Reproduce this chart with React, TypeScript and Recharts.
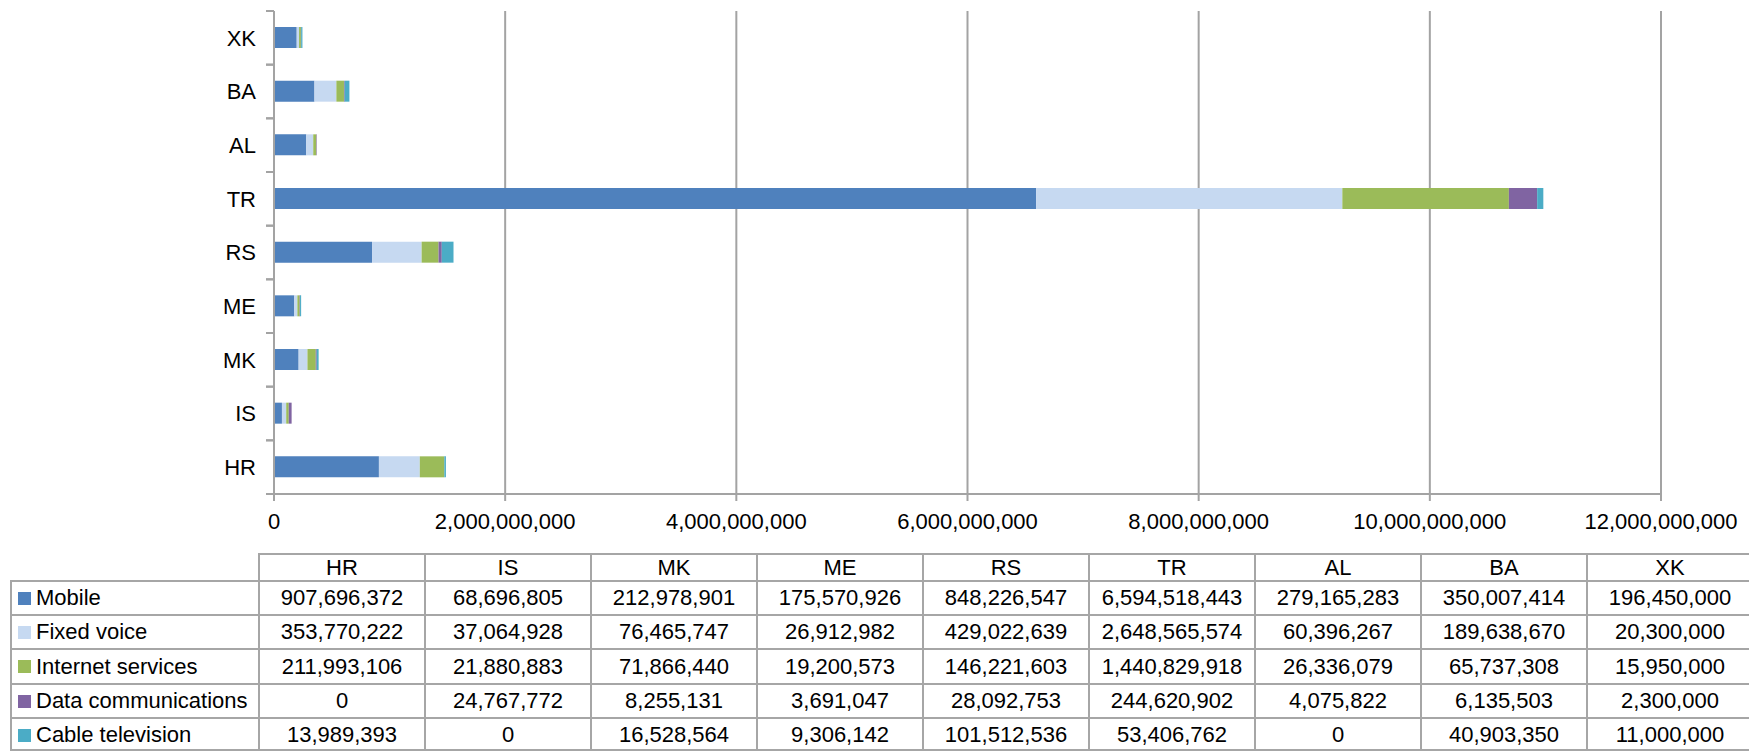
import React from 'react';
import { BarChart, Bar, XAxis, YAxis, CartesianGrid } from 'recharts';

const categories = ['HR', 'IS', 'MK', 'ME', 'RS', 'TR', 'AL', 'BA', 'XK'];
const mobile = [907696372, 68696805, 212978901, 175570926, 848226547, 6594518443, 279165283, 350007414, 196450000];
const fixedVoice = [353770222, 37064928, 76465747, 26912982, 429022639, 2648565574, 60396267, 189638670, 20300000];
const internet = [211993106, 21880883, 71866440, 19200573, 146221603, 1440829918, 26336079, 65737308, 15950000];
const dataComm = [0, 24767772, 8255131, 3691047, 28092753, 244620902, 4075822, 6135503, 2300000];
const cable = [13989393, 0, 16528564, 9306142, 101512536, 53406762, 0, 40903350, 11000000];
const xTicks = [0, 2000000000, 4000000000, 6000000000, 8000000000, 10000000000, 12000000000];

const seriesNames = ['Mobile', 'Fixed voice', 'Internet services', 'Data communications', 'Cable television'];
const seriesKeys = ['mobile', 'fixedVoice', 'internet', 'dataComm', 'cable'];
const seriesValues = [mobile, fixedVoice, internet, dataComm, cable];
const seriesColors = ['#4F81BD', '#C6D9F1', '#9BBB59', '#8064A2', '#4BACC6'];

const data = categories.map((c, i) => ({
  name: c,
  mobile: mobile[i],
  fixedVoice: fixedVoice[i],
  internet: internet[i],
  dataComm: dataComm[i],
  cable: cable[i],
}));

const FONT = '"Liberation Sans", Arial, Helvetica, sans-serif';
const CHART_W = 1749;
const CHART_H = 545;
const PLOT_LEFT = 274;
const PLOT_TOP = 11;
const PLOT_BOTTOM = 494;
const PLOT_RIGHT = 1661;
const BAND = (PLOT_BOTTOM - PLOT_TOP) / categories.length;
const GRID = '#A3A3A3';

const fmt = (v: number) => v.toLocaleString('en-US');

const YTick = (props: any) => {
  const { x, y, payload } = props;
  return (
    <g>
      <line x1={PLOT_LEFT - 8} x2={PLOT_LEFT} y1={y - BAND / 2} y2={y - BAND / 2} stroke={GRID} strokeWidth={2} />
      <line x1={PLOT_LEFT - 8} x2={PLOT_LEFT} y1={y + BAND / 2} y2={y + BAND / 2} stroke={GRID} strokeWidth={2} />
      <text x={x} y={y} dy="0.36em" textAnchor="end" fill="#000" fontSize={22} fontFamily={FONT}>
        {payload.value}
      </text>
    </g>
  );
};

const TABLE_TOP = 553;
const HEADER_H = 27;
const ROW_H = 34.2;
const LEG_LEFT = 10;
const COL_LEFT = 258;
const COL_W = 166;
const BORDER = '2px solid #A6A6A6';

const rowTop = (r: number) => Math.round(TABLE_TOP + HEADER_H + r * ROW_H);

const cellBase: React.CSSProperties = {
  position: 'absolute',
  boxSizing: 'border-box',
  borderTop: BORDER,
  borderLeft: BORDER,
  display: 'flex',
  alignItems: 'center',
  fontSize: 22,
  fontFamily: FONT,
  color: '#000',
  whiteSpace: 'nowrap',
};

export default function App() {
  const rowsBottom = rowTop(seriesNames.length);
  return (
    <div style={{ position: 'absolute', left: 0, top: 0, width: CHART_W, height: 752, background: '#fff', overflow: 'hidden' }}>
      <BarChart
        width={CHART_W}
        height={CHART_H}
        data={data}
        layout="vertical"
        margin={{ top: PLOT_TOP, right: CHART_W - PLOT_RIGHT, left: 0, bottom: 0 }}
        barSize={21}
      >
        <CartesianGrid horizontal={false} vertical={true} stroke={GRID} strokeWidth={2} />
        <XAxis
          type="number"
          domain={[0, 12000000000]}
          ticks={xTicks}
          tickFormatter={fmt}
          height={CHART_H - PLOT_BOTTOM}
          axisLine={{ stroke: GRID, strokeWidth: 2 }}
          tickLine={{ stroke: GRID, strokeWidth: 2 }}
          tickSize={7}
          tickMargin={12}
          tick={{ fill: '#000', fontSize: 22, fontFamily: FONT }}
          interval={0}
        />
        <YAxis
          type="category"
          dataKey="name"
          reversed
          width={PLOT_LEFT}
          axisLine={{ stroke: GRID, strokeWidth: 2 }}
          tickLine={false}
          tickSize={8}
          tickMargin={10}
          tick={<YTick />}
          interval={0}
        />
        {seriesKeys.map((k, i) => (
          <Bar key={k} dataKey={k} stackId="a" fill={seriesColors[i]} isAnimationActive={false} />
        ))}
      </BarChart>

      {categories.map((c, j) => (
        <div
          key={'h' + c}
          style={{
            ...cellBase,
            left: COL_LEFT + j * COL_W,
            top: TABLE_TOP,
            width: COL_W,
            height: HEADER_H,
            justifyContent: 'center',
          }}
        >
          {c}
        </div>
      ))}

      {seriesNames.map((s, r) => (
        <React.Fragment key={s}>
          <div
            style={{
              ...cellBase,
              left: LEG_LEFT,
              top: rowTop(r),
              width: COL_LEFT - LEG_LEFT,
              height: rowTop(r + 1) - rowTop(r),
              paddingLeft: 6,
            }}
          >
            <span style={{ display: 'inline-block', width: 13, height: 13, background: seriesColors[r], marginRight: 5 }} />
            {s}
          </div>
          {categories.map((c, j) => (
            <div
              key={s + c}
              style={{
                ...cellBase,
                left: COL_LEFT + j * COL_W,
                top: rowTop(r),
                width: COL_W,
                height: rowTop(r + 1) - rowTop(r),
                justifyContent: 'center',
              }}
            >
              {fmt(seriesValues[r][j])}
            </div>
          ))}
        </React.Fragment>
      ))}
      <div
        style={{
          position: 'absolute',
          left: LEG_LEFT,
          top: rowsBottom - 2,
          width: COL_LEFT + categories.length * COL_W - LEG_LEFT,
          height: 0,
          borderTop: BORDER,
        }}
      />
    </div>
  );
}
